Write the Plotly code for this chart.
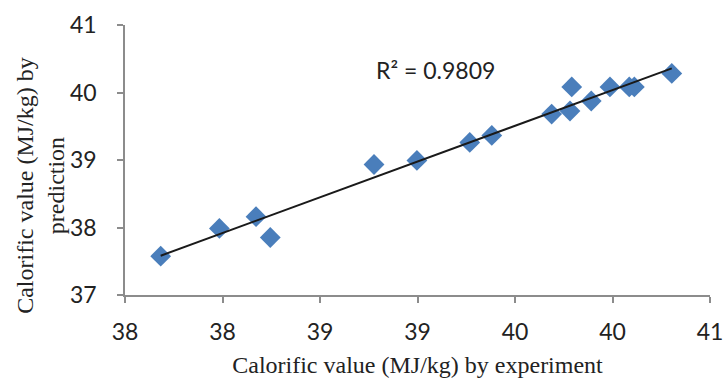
import numpy as np
import plotly.graph_objects as go

# Data
experiment = [37.683, 37.984, 38.172, 38.245, 38.777, 38.997, 39.268, 39.381,
              39.688, 39.782, 39.791, 39.891, 39.987, 40.086, 40.112, 40.304]
prediction = [37.575, 37.986, 38.160, 37.852, 38.933, 38.993, 39.260, 39.364,
              39.681, 39.726, 40.083, 39.874, 40.083, 40.083, 40.083, 40.282]

x_tickvals = [37.5, 38.0, 38.5, 39.0, 39.5, 40.0, 40.5]
x_ticktext = ["38", "38", "39", "39", "40", "40", "41"]
y_tickvals = [37, 38, 39, 40, 41]
r2_label = "R² = 0.9809"
x_title = "Calorific value (MJ/kg) by experiment"
y_title = "Calorific value (MJ/kg) by<br>prediction"

# linear trendline
slope, intercept = np.polyfit(experiment, prediction, 1)
tx = [min(experiment), max(experiment)]
ty = [slope * v + intercept for v in tx]

sans = "Lato, Open Sans, sans-serif"
serif = "Liberation Serif, Times New Roman, serif"

fig = go.Figure()
fig.add_trace(go.Scatter(
    x=experiment, y=prediction, mode="markers",
    marker=dict(symbol="diamond", size=16, color="#4a7ebb", line=dict(width=0)),
    showlegend=False,
))
fig.add_trace(go.Scatter(
    x=tx, y=ty, mode="lines",
    line=dict(color="#1a1a1a", width=2),
    showlegend=False,
))

fig.add_annotation(
    x=39.09, y=40.333, xref="x", yref="y", text=r2_label, showarrow=False,
    font=dict(family=sans, size=23, color="#222222"),
)
fig.add_annotation(
    x=-0.145, y=0.405, xref="paper", yref="paper", text=y_title, showarrow=False,
    textangle=-90, xanchor="center", yanchor="middle",
    font=dict(family=serif, size=24, color="#222222"),
)

fig.update_layout(
    width=727, height=378,
    margin=dict(l=125, r=17, t=25, b=83),
    paper_bgcolor="white", plot_bgcolor="white",
    font=dict(family=sans, size=23, color="#222222"),
)
fig.update_xaxes(
    range=[37.5, 40.5], tickvals=x_tickvals, ticktext=x_ticktext,
    showgrid=False, zeroline=False, automargin=False,
    showline=True, linecolor="#8c8c8c", linewidth=1.5,
    ticks="outside", ticklen=6, tickcolor="#8c8c8c", tickwidth=1.5,
    tickfont=dict(family=sans, size=23), ticklabelstandoff=10,
    title=dict(text=x_title, font=dict(family=serif, size=24), standoff=13),
)
fig.update_yaxes(
    range=[37, 41], tickvals=y_tickvals,
    showgrid=False, zeroline=False, automargin=False,
    showline=True, linecolor="#8c8c8c", linewidth=1.5,
    ticks="outside", ticklen=6, tickcolor="#8c8c8c", tickwidth=1.5,
    tickfont=dict(family=sans, size=23), ticklabelstandoff=16,
)

fig.write_html("out.html",
               config={"displayModeBar": False},
               post_script="document.body.style.margin='0';document.body.style.overflow='hidden';")
